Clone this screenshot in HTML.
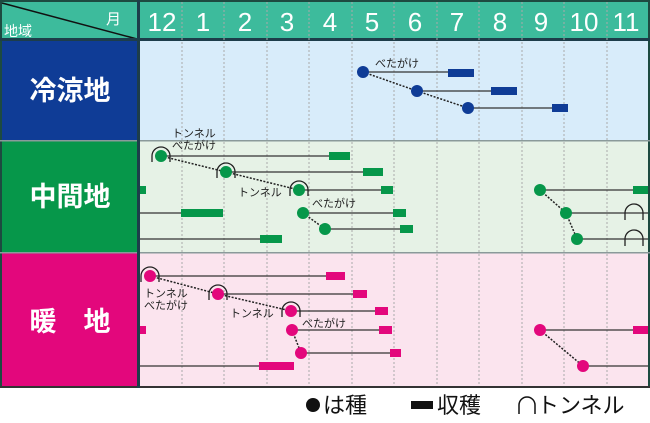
<!DOCTYPE html>
<html><head><meta charset="utf-8"><style>
html,body{margin:0;padding:0;background:#fff;}
svg{display:block;}
text{font-family:"Liberation Sans","Noto Sans CJK JP",sans-serif;}
</style></head><body>
<svg width="650" height="423" viewBox="0 0 650 423" xmlns="http://www.w3.org/2000/svg">
<rect x="0" y="0" width="650" height="40" fill="#3dbb9c"/>
<rect x="0" y="0" width="650" height="2" fill="#1d4a40"/>
<rect x="0" y="0" width="2" height="388" fill="#1d4a40"/>
<rect x="648" y="0" width="2" height="388" fill="#1d4a40"/>
<line x1="2" y1="3" x2="137" y2="39" stroke="#111" stroke-width="1.5"/>
<text x="106" y="24" font-size="15" fill="#fff">月</text>
<text x="4" y="36" font-size="14" fill="#fff">地域</text>
<g font-size="26" fill="#fff" text-anchor="middle">
<text x="162" y="31">12</text><text x="203" y="31">1</text><text x="245" y="31">2</text><text x="287" y="31">3</text><text x="330" y="31">4</text><text x="372" y="31">5</text><text x="415" y="31">6</text><text x="457" y="31">7</text><text x="500" y="31">8</text><text x="541" y="31">9</text><text x="584" y="31">10</text><text x="626" y="31">11</text>
</g>
<rect x="140" y="41" width="508" height="99" fill="#d8ecfa"/>
<rect x="140" y="141" width="508" height="111" fill="#e6f2e6"/>
<rect x="140" y="253" width="508" height="134" fill="#fbe4ee"/>
<rect x="2" y="41" width="136" height="99" fill="#0f3c96"/>
<rect x="2" y="141" width="136" height="111" fill="#06974a"/>
<rect x="2" y="253" width="136" height="134" fill="#e3077c"/>
<rect x="0" y="38" width="650" height="3" fill="#1d3d4a"/>
<rect x="0" y="140" width="650" height="1.5" fill="#8a9a9a"/>
<rect x="0" y="252" width="650" height="1.5" fill="#8a9a9a"/>
<rect x="0" y="386" width="650" height="2" fill="#333"/>
<rect x="137" y="0" width="3" height="388" fill="#1d3d4a"/>
<g stroke="#aaa" stroke-width="1" stroke-dasharray="2,2">
<line x1="182" y1="2" x2="182" y2="386"/><line x1="224" y1="2" x2="224" y2="386"/><line x1="267" y1="2" x2="267" y2="386"/><line x1="309" y1="2" x2="309" y2="386"/><line x1="352" y1="2" x2="352" y2="386"/><line x1="394" y1="2" x2="394" y2="386"/><line x1="437" y1="2" x2="437" y2="386"/><line x1="479" y1="2" x2="479" y2="386"/><line x1="522" y1="2" x2="522" y2="386"/><line x1="564" y1="2" x2="564" y2="386"/><line x1="607" y1="2" x2="607" y2="386"/>
</g>
<g font-size="27" fill="#fff" font-weight="bold" text-anchor="middle">
<text x="70" y="100">冷涼地</text><text x="70" y="206">中間地</text><text x="70" y="331">暖　地</text>
</g>
<g stroke="#333" stroke-width="1.3" fill="none">
<line x1="363" y1="72" x2="448" y2="72"/><line x1="417" y1="91" x2="491" y2="91"/><line x1="468" y1="108" x2="552" y2="108"/>
<line x1="161" y1="156" x2="329" y2="156"/><line x1="226" y1="172" x2="363" y2="172"/><line x1="299" y1="190" x2="381" y2="190"/>
<line x1="540" y1="190" x2="633" y2="190"/><line x1="140" y1="213" x2="181" y2="213"/><line x1="303" y1="213" x2="393" y2="213"/>
<line x1="566" y1="213" x2="648" y2="213"/><line x1="325" y1="229" x2="400" y2="229"/><line x1="140" y1="239" x2="260" y2="239"/><line x1="577" y1="239" x2="648" y2="239"/>
<line x1="150" y1="276" x2="326" y2="276"/><line x1="218" y1="294" x2="353" y2="294"/><line x1="291" y1="311" x2="375" y2="311"/>
<line x1="292" y1="330" x2="379" y2="330"/><line x1="540" y1="330" x2="633" y2="330"/><line x1="301" y1="353" x2="390" y2="353"/>
<line x1="140" y1="366" x2="259" y2="366"/><line x1="583" y1="366" x2="648" y2="366"/>
</g>
<g stroke="#222" stroke-width="1.5" stroke-dasharray="2,1.5" fill="none">
<line x1="363" y1="72" x2="417" y2="91"/><line x1="417" y1="91" x2="468" y2="108"/>
<line x1="161" y1="156" x2="226" y2="172"/><line x1="226" y1="172" x2="299" y2="190"/><line x1="303" y1="213" x2="325" y2="229"/>
<line x1="540" y1="190" x2="566" y2="213"/><line x1="566" y1="213" x2="577" y2="239"/>
<line x1="150" y1="276" x2="218" y2="294"/><line x1="218" y1="294" x2="291" y2="311"/><line x1="292" y1="330" x2="301" y2="353"/><line x1="540" y1="330" x2="583" y2="366"/>
</g>
<g stroke="#222" stroke-width="1.3" fill="none">
<path d="M152 162 V156 A9 9 0 0 1 170 156 V162"/><path d="M217 178 V172 A9 9 0 0 1 235 172 V178"/><path d="M290 196 V190 A9 9 0 0 1 308 190 V196"/>
<path d="M625 220 V213 A9 9 0 0 1 643 213 V220"/><path d="M625 246 V239 A9 9 0 0 1 643 239 V246"/>
<path d="M141 282 V276 A9 9 0 0 1 159 276 V282"/><path d="M209 300 V294 A9 9 0 0 1 227 294 V300"/><path d="M282 317 V311 A9 9 0 0 1 300 311 V317"/>
</g>
<g fill="#0f3c96"><rect x="448" y="69" width="26" height="8"/><rect x="491" y="87" width="26" height="8"/><rect x="552" y="104" width="16" height="8"/>
<circle cx="363" cy="72" r="6"/><circle cx="417" cy="91" r="6"/><circle cx="468" cy="108" r="6"/></g>
<g fill="#06974a"><rect x="329" y="152" width="21" height="8"/><rect x="363" y="168" width="20" height="8"/><rect x="381" y="186" width="12" height="8"/><rect x="140" y="186" width="6" height="8"/><rect x="633" y="186" width="15" height="8"/><rect x="181" y="209" width="42" height="8"/><rect x="393" y="209" width="13" height="8"/><rect x="400" y="225" width="13" height="8"/><rect x="260" y="235" width="22" height="8"/>
<circle cx="161" cy="156" r="6"/><circle cx="226" cy="172" r="6"/><circle cx="299" cy="190" r="6"/><circle cx="540" cy="190" r="6"/><circle cx="303" cy="213" r="6"/><circle cx="566" cy="213" r="6"/><circle cx="325" cy="229" r="6"/><circle cx="577" cy="239" r="6"/></g>
<g fill="#e3077c"><rect x="326" y="272" width="19" height="8"/><rect x="353" y="290" width="14" height="8"/><rect x="375" y="307" width="13" height="8"/><rect x="140" y="326" width="6" height="8"/><rect x="379" y="326" width="13" height="8"/><rect x="633" y="326" width="15" height="8"/><rect x="390" y="349" width="11" height="8"/><rect x="259" y="362" width="35" height="8"/>
<circle cx="150" cy="276" r="6"/><circle cx="218" cy="294" r="6"/><circle cx="291" cy="311" r="6"/><circle cx="292" cy="330" r="6"/><circle cx="540" cy="330" r="6"/><circle cx="301" cy="353" r="6"/><circle cx="583" cy="366" r="6"/></g>
<g font-size="11" fill="#222">
<text x="375" y="67">べたがけ</text>
<text x="172" y="137">トンネル</text><text x="172" y="149">べたがけ</text>
<text x="238" y="196">トンネル</text><text x="312" y="207">べたがけ</text>
<text x="144" y="297">トンネル</text><text x="144" y="309">べたがけ</text>
<text x="230" y="317">トンネル</text><text x="302" y="327">べたがけ</text>
</g>
<g font-size="22" fill="#111">
<circle cx="313" cy="405" r="7"/><text x="323" y="413">は種</text>
<rect x="411" y="401" width="22" height="8"/><text x="437" y="413">収穫</text>
<path d="M519 414 V405 A8 8 0 0 1 535 405 V414" stroke="#111" stroke-width="1.5" fill="none"/><text x="537" y="413">トンネル</text>
</g>
</svg>
</body></html>
